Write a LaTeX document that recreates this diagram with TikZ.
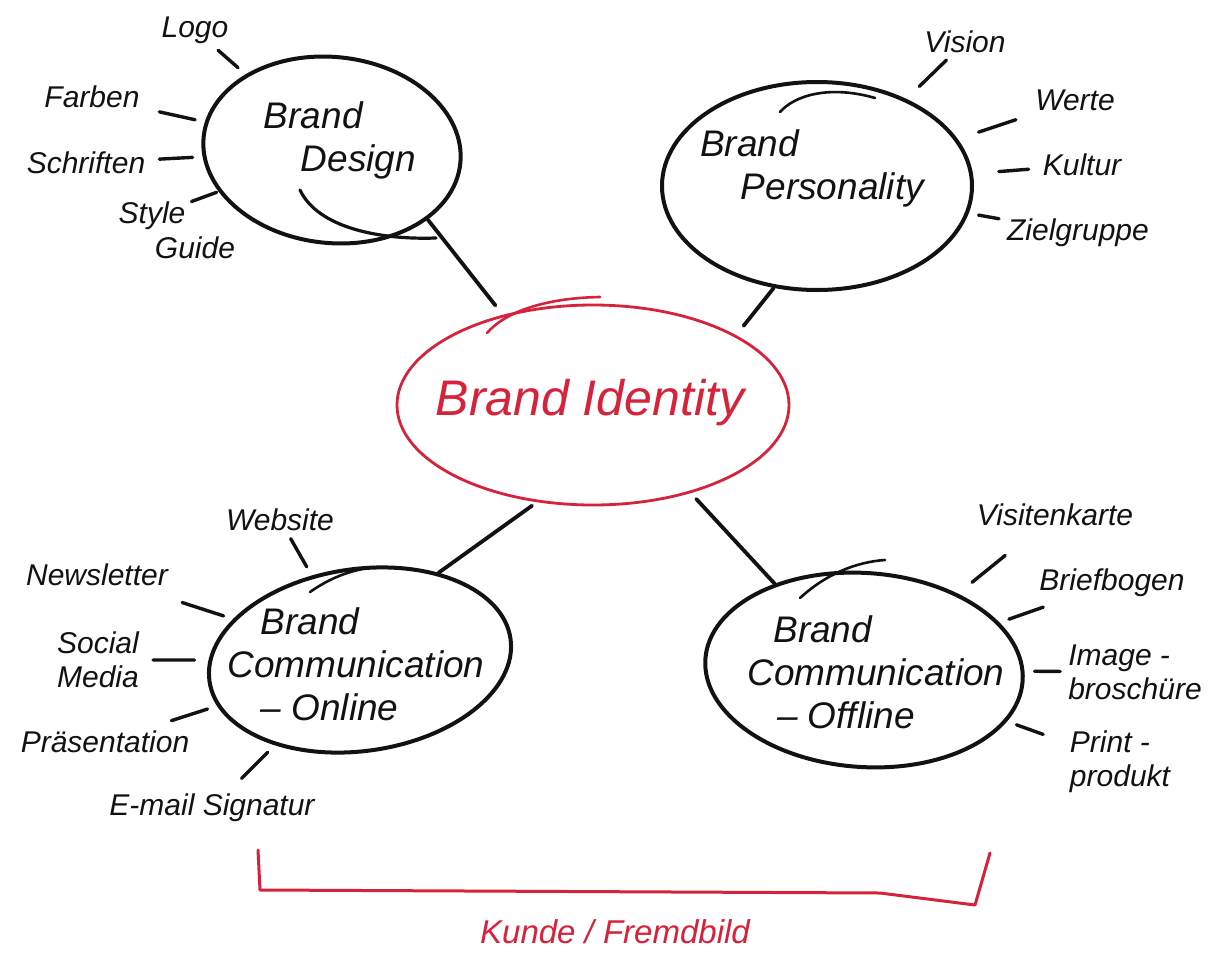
\documentclass[tikz,border=0pt]{standalone}
\usepackage{fontspec}
\setmainfont{Liberation Sans}
\usetikzlibrary{shapes.geometric}
\definecolor{hred}{RGB}{214,34,58}
\definecolor{ink}{RGB}{18,18,18}
\begin{document}
\begin{tikzpicture}[x=1pt,y=-1pt,
  bubble/.style={ellipse, draw=ink, line width=4pt, inner sep=0pt},
  btext/.style={font=\fontsize{37}{43}\selectfont\itshape, align=left, text=ink, inner sep=0pt},
  lbl/.style={font=\fontsize{30}{34}\selectfont\itshape, align=left, text=ink, inner sep=4pt},
  link/.style={draw=ink, line width=3.8pt, line cap=round},
  spoke/.style={draw=ink, line width=3.4pt, line cap=round, shorten <=4pt, shorten >=10pt},
  echo/.style={draw=ink, line width=2.6pt, line cap=round},
]
\useasboundingbox (0,0) rectangle (1228,955);
\fill[white] (0,0) rectangle (1228,955);

% ---- bubbles
\node[bubble, minimum width=258, minimum height=186, rotate=-6] (design) at (332,150) {};
\node[bubble, minimum width=310, minimum height=208] (pers) at (817,186) {};
\node[bubble, draw=hred, line width=2.8pt, minimum width=392, minimum height=200] (center) at (593,405) {};
\node[bubble, minimum width=304, minimum height=182, rotate=8] (online) at (360,660) {};
\node[bubble, minimum width=318, minimum height=194, rotate=-4] (offline) at (864,670) {};

% ---- bubble texts
\node[btext] (designT) at (340,140) {Brand\\\hspace*{1em}Design};
\node[btext] (persT) at (812,168) {Brand\\\hspace*{1.1em}Personality};
\node[btext, text=hred, font=\fontsize{50}{54}\selectfont\itshape] (centerT) at (590,403) {Brand Identity};
\node[btext] (onlineT) at (356,664) {\hspace*{0.9em}Brand\\Communication\\\hspace*{0.9em}-- Online};
\node[btext] (offlineT) at (876,672) {\hspace*{0.7em}Brand\\Communication\\\hspace*{0.8em}-- Offline};

% ---- links to the centre
\draw[link, shorten >=12pt] (design.-30) -- (center.135);
\draw[link, shorten >=12pt] (pers.-113) -- (center.26);
\draw[link, shorten >=6pt] (online.40) -- (center.-120);
\draw[link, shorten >=8pt] (offline.140) -- (center.-42);

% ---- echo strokes (hand drawn double lines)
\draw[echo, line width=3.2pt] (300,190) .. controls (318,228) and (380,240) .. (436,238);
\draw[echo] (780,112) .. controls (795,95) and (830,85) .. (875,98);
\draw[echo, draw=hred] (487,333) .. controls (505,312) and (545,298) .. (600,297);
\draw[echo] (310,592) .. controls (330,578) and (350,570) .. (375,567);
\draw[echo] (800,598) .. controls (825,575) and (855,562) .. (885,560);

% ---- Brand Design
\node[lbl] (logo) at (195,30) {Logo};
\node[lbl] (farben) at (92,97) {Farben};
\node[lbl] (schriften) at (86,163) {Schriften};
\node[lbl] (style) at (152,216) {Style};
\node[lbl] (guide) at (195,248) {Guide};
\draw[spoke] (logo) -- (design);
\draw[spoke, shorten <=16pt] (farben) -- (design);
\draw[spoke, shorten <=10pt] (schriften) -- (design);
\draw[spoke, shorten <=2pt, shorten >=2pt] (style) -- (design);

% ---- Brand Personality
\node[lbl] (vision) at (965,42) {Vision};
\node[lbl] (werte) at (1075,100) {Werte};
\node[lbl] (kultur) at (1082,165) {Kultur};
\node[lbl] (ziel) at (1078,233) {Zielgruppe};
\draw[spoke, shorten >=18pt] (vision) -- (pers);
\draw[spoke, shorten <=16pt, shorten >=22pt] (werte) -- (pers);
\draw[spoke, shorten <=10pt, shorten >=26pt] (kultur) -- (pers);
\draw[spoke] (ziel) -- (pers);

% ---- Brand Communication Online
\node[lbl] (website) at (280,520) {Website};
\node[lbl] (newsletter) at (97,575) {Newsletter};
\node[lbl] (social) at (98,660) {Social\\Media};
\node[lbl] (praes) at (105,742) {Präsentation};
\node[lbl] (email) at (212,808) {E-mail Signatur};
\draw[spoke] (website) -- (online);
\draw[spoke, shorten <=40pt] (newsletter) -- (online);
\draw[spoke, shorten <=10pt, shorten >=14pt] (social) -- (online);
\draw[spoke, shorten <=20pt] (praes) -- (online);
\draw[spoke, shorten <=16pt] (email) -- (online);

% ---- Brand Communication Offline
\node[lbl] (visiten) at (1055,515) {Visitenkarte};
\node[lbl] (brief) at (1112,583) {Briefbogen};
\node[lbl] (image) at (1135,672) {Image -\\broschüre};
\node[lbl] (print) at (1120,762) {Print -\\produkt};
\draw[spoke, shorten <=40pt, shorten >=18pt] (visiten) -- (offline);
\draw[spoke, shorten <=18pt] (brief) -- (offline);
\draw[spoke] (image) -- (offline);
\draw[spoke, shorten <=24pt] (print) -- (offline);

% ---- red bracket
\draw[hred, line width=3pt, line cap=round, line join=round]
  (258,850) -- (260,890) -- (880,893) -- (975,905) -- (990,853);
\node[btext, text=hred, font=\fontsize{33}{36}\selectfont\itshape] (kunde) at (615,932) {Kunde / Fremdbild};
\end{tikzpicture}
\end{document}
